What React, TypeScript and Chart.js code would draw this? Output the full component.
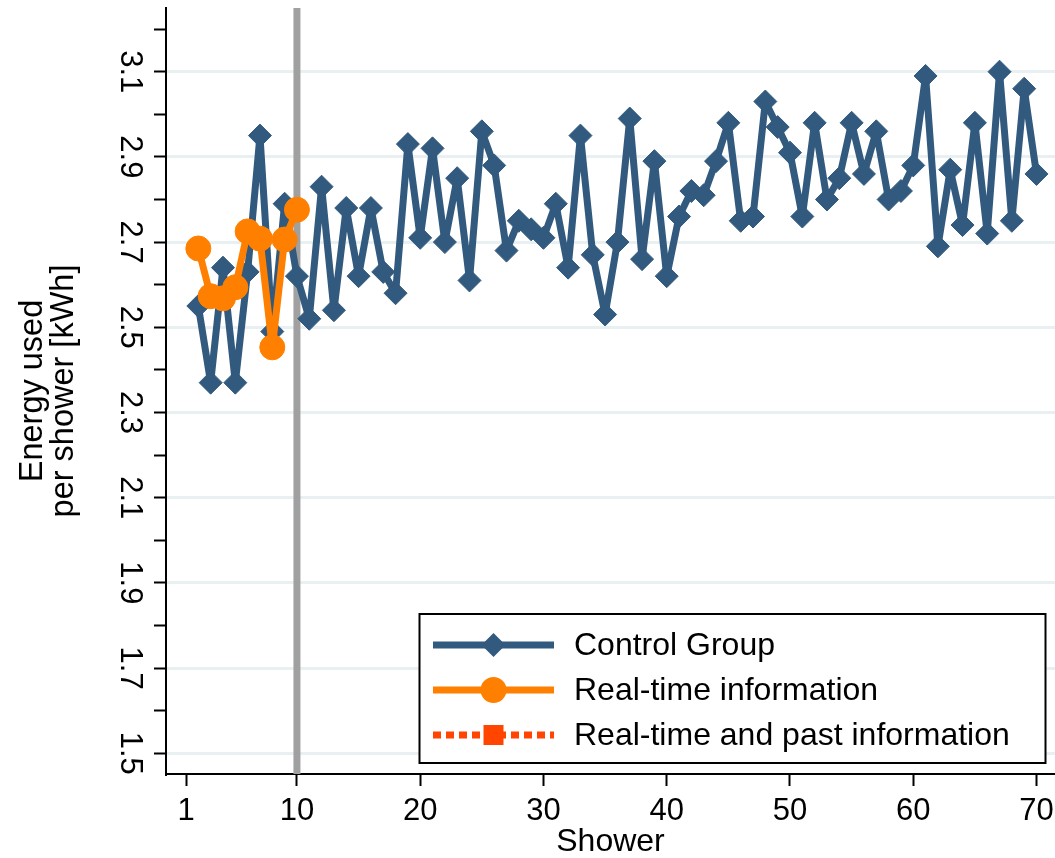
import React, { useEffect, useRef } from 'react';
import { Chart, registerables } from 'chart.js';

Chart.register(...registerables);

// ---- data ----
const controlShowers = [
  2, 3, 4, 5, 6, 7, 8, 9, 10, 11, 12, 13, 14, 15, 16, 17, 18, 19, 20, 21, 22, 23,
  24, 25, 26, 27, 28, 29, 30, 31, 32, 33, 34, 35, 36, 37, 38, 39, 40, 41, 42, 43,
  44, 45, 46, 47, 48, 49, 50, 51, 52, 53, 54, 55, 56, 57, 58, 59, 60, 61, 62, 63,
  64, 65, 66, 67, 68, 69, 70,
];
const controlGroup = [
  2.55, 2.37, 2.64, 2.37, 2.63, 2.95, 2.49, 2.79, 2.62, 2.52, 2.83, 2.54, 2.78,
  2.62, 2.78, 2.63, 2.58, 2.93, 2.71, 2.92, 2.7, 2.85, 2.61, 2.96, 2.88, 2.68,
  2.75, 2.73, 2.71, 2.79, 2.64, 2.95, 2.67, 2.53, 2.7, 2.99, 2.66, 2.89, 2.62,
  2.76, 2.82, 2.81, 2.89, 2.98, 2.75, 2.76, 3.03, 2.97, 2.91, 2.76, 2.98, 2.8,
  2.85, 2.98, 2.86, 2.96, 2.8, 2.82, 2.88, 3.09, 2.69, 2.87, 2.74, 2.98, 2.72,
  3.1, 2.75, 3.06, 2.86,
];
const realTimeShowers = [2, 3, 4, 5, 6, 7, 8, 9, 10];
const realTime = [2.685, 2.573, 2.568, 2.594, 2.725, 2.708, 2.453, 2.706, 2.776];
const realTimePastShowers: number[] = [];
const realTimePast: number[] = [];

const seriesLabels = ['Control Group', 'Real-time information', 'Real-time and past information'];

const xTickValues = [1, 10, 20, 30, 40, 50, 60, 70];
const yMajorTicks = [1.5, 1.7, 1.9, 2.1, 2.3, 2.5, 2.7, 2.9, 3.1];
const yMinorTicks = [1.6, 1.8, 2.0, 2.2, 2.4, 2.6, 2.8, 3.0, 3.2];
const yTickLabels = ['1.5', '1.7', '1.9', '2.1', '2.3', '2.5', '2.7', '2.9', '3.1'];
const treatmentStart = 10;

const xTitle = 'Shower';
const yTitle = ['Energy used', 'per shower [kWh]'];

// ---- styles ----
const BLUE = '#325a7e';
const ORANGE = '#ff8000';
const ORANGE_RED = '#ff4500';
const GRID = '#e8f0f2';
const FONT = '"Liberation Sans", Arial, Helvetica, sans-serif';

const vlinePlugin = {
  id: 'treatmentLine',
  beforeDatasetsDraw(chart: any) {
    const { ctx, chartArea, scales } = chart;
    const x = scales.x.getPixelForValue(treatmentStart);
    ctx.save();
    ctx.strokeStyle = '#a0a0a0';
    ctx.lineWidth = 7;
    ctx.beginPath();
    ctx.moveTo(x, chartArea.top);
    ctx.lineTo(x, chartArea.bottom);
    ctx.stroke();
    ctx.restore();
  },
};

const legendPlugin = {
  id: 'boxLegend',
  afterDraw(chart: any) {
    const { ctx } = chart;
    const x0 = 419.5;
    const y0 = 614;
    const w = 626;
    const h = 149;
    ctx.save();
    ctx.fillStyle = '#ffffff';
    ctx.fillRect(x0, y0, w, h);
    ctx.strokeStyle = '#000';
    ctx.lineWidth = 2;
    ctx.strokeRect(x0, y0, w, h);
    const rows = [645, 690, 735];
    const lx0 = 433;
    const lx1 = 554;
    const mx = (lx0 + lx1) / 2;
    chart.data.datasets.forEach((ds: any, i: number) => {
      const cy = rows[i];
      ctx.save();
      ctx.strokeStyle = ds.borderColor;
      ctx.lineWidth = 7;
      ctx.setLineDash(ds.borderDash || []);
      ctx.beginPath();
      ctx.moveTo(lx0, cy);
      ctx.lineTo(lx1, cy);
      ctx.stroke();
      ctx.setLineDash([]);
      ctx.fillStyle = ds.backgroundColor;
      ctx.beginPath();
      if (ds.pointStyle === 'rectRot') {
        const r = 12;
        ctx.moveTo(mx, cy - r);
        ctx.lineTo(mx + r, cy);
        ctx.lineTo(mx, cy + r);
        ctx.lineTo(mx - r, cy);
        ctx.closePath();
      } else if (ds.pointStyle === 'circle') {
        ctx.arc(mx, cy, 13, 0, Math.PI * 2);
      } else {
        ctx.rect(mx - 10, cy - 10, 20, 20);
      }
      ctx.fill();
      ctx.fillStyle = '#000';
      ctx.font = `32px ${FONT}`;
      ctx.textAlign = 'left';
      ctx.textBaseline = 'middle';
      ctx.fillText(ds.label, 574, cy + 1);
      ctx.restore();
    });
    ctx.restore();
  },
};

const isMajor = (v: number) => yMajorTicks.some((m) => Math.abs(m - v) < 1e-6);

export default function App() {
  const ref = useRef<HTMLCanvasElement | null>(null);

  useEffect(() => {
    if (!ref.current) return;
    Chart.defaults.font.family = FONT;
    Chart.defaults.color = '#000';
    const chart = new Chart(ref.current, {
      type: 'line',
      data: {
        datasets: [
          {
            label: seriesLabels[0],
            data: controlShowers.map((s, i) => ({ x: s, y: controlGroup[i] })),
            borderColor: BLUE,
            backgroundColor: BLUE,
            borderWidth: 7,
            borderJoinStyle: 'round',
            pointStyle: 'rectRot',
            pointRadius: 11.5,
            pointBorderWidth: 1,
            pointBorderColor: BLUE,
            pointBackgroundColor: BLUE,
            tension: 0,
            order: 3,
          },
          {
            label: seriesLabels[1],
            data: realTimeShowers.map((s, i) => ({ x: s, y: realTime[i] })),
            borderColor: ORANGE,
            backgroundColor: ORANGE,
            borderWidth: 7,
            borderJoinStyle: 'round',
            pointStyle: 'circle',
            pointRadius: 12.5,
            pointBorderWidth: 1,
            pointBorderColor: ORANGE,
            pointBackgroundColor: ORANGE,
            tension: 0,
            order: 2,
          },
          {
            label: seriesLabels[2],
            data: realTimePastShowers.map((s, i) => ({ x: s, y: realTimePast[i] })),
            borderColor: ORANGE_RED,
            backgroundColor: ORANGE_RED,
            borderWidth: 7,
            borderDash: [8, 5],
            pointStyle: 'rect',
            pointRadius: 12,
            tension: 0,
            order: 1,
          },
        ],
      },
      options: {
        responsive: false,
        animation: false,
        layout: { autoPadding: false, padding: { top: 8, left: 0, right: 0, bottom: 0 } },
        plugins: {
          legend: { display: false },
          tooltip: { enabled: false },
        },
        scales: {
          x: {
            type: 'linear',
            min: -0.623,
            max: 71.5,
            afterBuildTicks: (scale: any) => {
              scale.ticks = xTickValues.map((v) => ({ value: v }));
            },
            afterFit: (scale: any) => {
              scale.height = 84;
              scale.paddingLeft = 0;
              scale.paddingRight = 0;
            },
            ticks: {
              font: { size: 31 },
              color: '#000',
              padding: 7,
              maxRotation: 0,
              autoSkip: false,
              callback: (v: any) => String(v),
            },
            grid: {
              drawOnChartArea: false,
              drawTicks: true,
              tickLength: 12,
              tickColor: '#000',
              tickWidth: 2,
            },
            border: { display: true, color: '#000', width: 2 },
            title: {
              display: true,
              text: xTitle,
              font: { size: 32, lineHeight: 1 },
              color: '#000',
              padding: { top: 0, bottom: 0 },
            },
          },
          y: {
            type: 'linear',
            min: 1.4514,
            max: 3.2495,
            afterBuildTicks: (scale: any) => {
              const all = [...yMajorTicks, ...yMinorTicks].sort((a, b) => a - b);
              scale.ticks = all.map((v) => ({ value: v }));
            },
            afterFit: (scale: any) => {
              scale.width = 166;
              scale.paddingTop = 0;
              scale.paddingBottom = 0;
            },
            ticks: {
              font: { size: 31 },
              color: '#000',
              padding: 2.5,
              minRotation: -90,
              maxRotation: -90,
              crossAlign: 'center',
              autoSkip: false,
              callback: (v: any) => {
                const idx = yMajorTicks.findIndex((m) => Math.abs(m - v) < 1e-6);
                return idx >= 0 ? yTickLabels[idx] : '';
              },
            },
            grid: {
              drawOnChartArea: true,
              drawTicks: true,
              tickLength: 12,
              tickColor: '#000',
              tickWidth: 2,
              lineWidth: 3,
              color: (c: any) => (c.tick && isMajor(c.tick.value) ? GRID : 'rgba(0,0,0,0)'),
            },
            border: { display: true, color: '#000', width: 2 },
            title: {
              display: true,
              text: yTitle,
              font: { size: 32.5, lineHeight: 0.95 },
              color: '#000',
              padding: { top: 17.5, bottom: 0 },
            },
          },
        },
      },
      plugins: [vlinePlugin, legendPlugin],
    } as any);
    return () => chart.destroy();
  }, []);

  return (
    <div style={{ position: 'absolute', left: 0, top: 0, width: 1055, height: 858, background: '#fff' }}>
      <canvas ref={ref} width={1055} height={858} style={{ display: 'block' }} />
    </div>
  );
}
